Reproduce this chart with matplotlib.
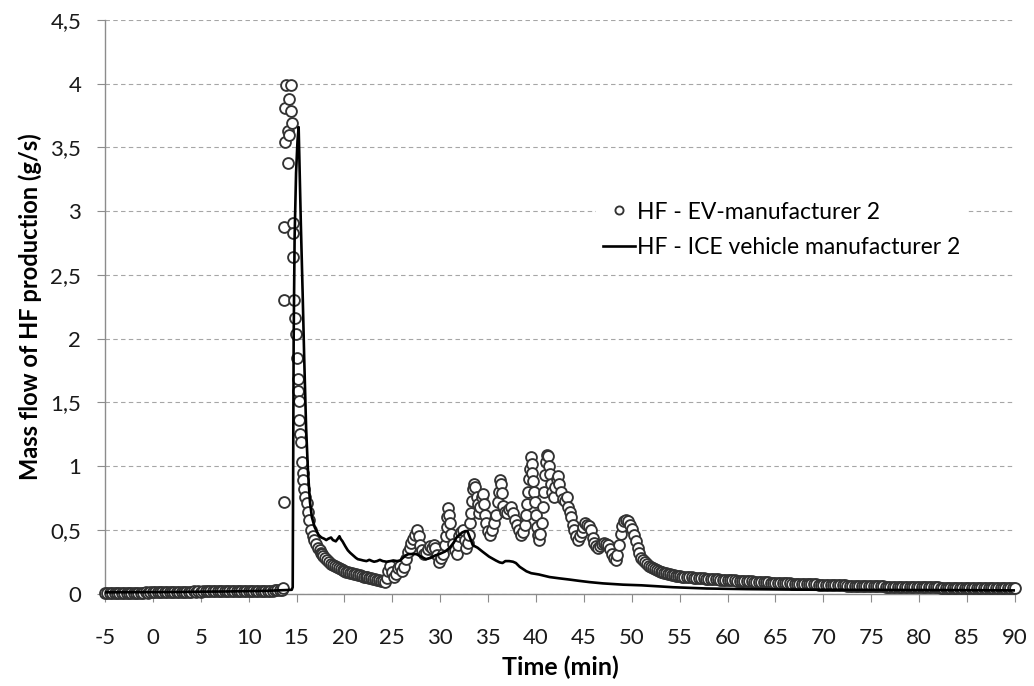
import numpy as np
import matplotlib.pyplot as plt
from matplotlib.ticker import FuncFormatter, MultipleLocator

plt.rcParams['font.family'] = ['Lato', 'DejaVu Sans']
plt.rcParams['axes.unicode_minus'] = False

# HF - EV-manufacturer 2 (open circles), time in min, mass flow in g/s
# before the fire reaches the battery
ev_base_t = [
    -5, -4.75, -4.5, -4.25, -4, -3.75, -3.5, -3.25, -3, -2.75, -2.5, -2.25, -2, -1.75, -1.5,
    -1.25, -1, -0.75, -0.5, -0.25, 0, 0.25, 0.5, 0.75, 1, 1.25, 1.5, 1.75, 2, 2.25,
    2.5, 2.75, 3, 3.25, 3.5, 3.75, 4, 4.25, 4.5, 4.75, 5, 5.25, 5.5, 5.75, 6,
    6.25, 6.5, 6.75, 7, 7.25, 7.5, 7.75, 8, 8.25, 8.5, 8.75, 9, 9.25, 9.5, 9.75,
    10, 10.25, 10.5, 10.75, 11, 11.25, 11.5, 11.75, 12, 12.25, 12.5, 12.75, 13, 13.25, 13.5,
]
ev_base_v = [
    0.005, 0.006, 0.005, 0.005, 0.006, 0.007, 0.006, 0.005, 0.006, 0.007, 0.007, 0.006, 0.007, 0.008, 0.007,
    0.008, 0.008, 0.009, 0.008, 0.009, 0.010, 0.011, 0.012, 0.013, 0.012, 0.013, 0.014, 0.013, 0.014, 0.015,
    0.014, 0.015, 0.016, 0.015, 0.016, 0.015, 0.016, 0.017, 0.016, 0.017, 0.016, 0.017, 0.018, 0.017, 0.018,
    0.017, 0.018, 0.017, 0.018, 0.019, 0.018, 0.019, 0.018, 0.019, 0.020, 0.019, 0.020, 0.019, 0.020, 0.021,
    0.020, 0.021, 0.020, 0.021, 0.022, 0.021, 0.022, 0.023, 0.022, 0.023, 0.024, 0.025, 0.026, 0.027, 0.030,
]
# peak and first decay
ev_peak_t = [
    13.55, 13.66, 13.66, 13.66, 13.80, 13.84, 13.91, 14.08, 14.08, 14.18, 14.25, 14.43, 14.43,
    14.53, 14.6, 14.67, 14.67, 14.78, 14.88, 14.95, 15.02, 15.12, 15.12, 15.23, 15.23, 15.37,
    15.48, 15.54, 15.64, 15.72, 15.82, 15.93, 16.06, 16.17, 16.34, 16.52, 16.7, 16.85, 17.04,
    17.2, 17.4, 17.55, 17.65,
    17.8, 18.0, 18.2, 18.4, 18.6, 18.8, 19.0, 19.2, 19.4, 19.6, 19.8, 20.0, 20.2, 20.4, 20.6,
    20.8, 21.0, 21.2, 21.4, 21.6, 21.8, 22.0, 22.2, 22.4, 22.6, 22.8, 23.0, 23.2, 23.4, 23.6,
    23.8, 24.0, 24.2,
]
ev_peak_v = [
    0.04, 0.72, 2.30, 2.88, 3.54, 3.81, 3.99, 3.38, 3.63, 3.60, 3.88, 3.99, 3.79,
    3.69, 2.91, 2.83, 2.64, 2.30, 2.16, 2.04, 1.85, 1.68, 1.59, 1.51, 1.36, 1.25,
    1.19, 1.03, 0.95, 0.89, 0.82, 0.76, 0.71, 0.64, 0.58, 0.50, 0.45, 0.42, 0.39,
    0.36, 0.34, 0.32, 0.31,
    0.295, 0.28, 0.265, 0.25, 0.235, 0.222, 0.213, 0.205, 0.20, 0.192, 0.185, 0.178, 0.172, 0.167, 0.162,
    0.158, 0.154, 0.15, 0.146, 0.142, 0.138, 0.134, 0.131, 0.128, 0.124, 0.12, 0.116, 0.112, 0.108, 0.104,
    0.10, 0.095, 0.09,
]
# battery phase
ev_mid_t = [
    24.4, 24.6, 24.8, 25.0, 25.2, 25.4, 25.6, 25.8, 26.0, 26.2, 26.4, 26.6, 26.8, 27.0, 27.2,
    27.4, 27.6, 27.8, 27.9, 28.1, 28.3, 28.5, 28.7, 28.9, 29.1, 29.3, 29.5, 29.7, 29.9, 30.1,
    30.3, 30.5, 30.6, 30.7, 30.75, 30.8, 30.9, 31.0, 31.1, 31.3, 31.5, 31.7, 31.9, 32.0, 32.2,
    32.4, 32.6, 32.7, 32.9, 33.0, 33.1, 33.2, 33.3, 33.4, 33.5, 33.65, 33.8, 33.9, 34.0, 34.2,
    34.4, 34.5, 34.6, 34.7, 34.8, 35.0, 35.2, 35.4, 35.6, 35.8, 36.0, 36.1, 36.2, 36.3, 36.45,
    36.6, 36.8, 37.0, 37.2, 37.4, 37.6, 37.8, 38.0, 38.2, 38.4, 38.6, 38.8, 39.0, 39.1, 39.2,
    39.3, 39.4, 39.5, 39.55, 39.6, 39.7, 39.8, 39.9, 40.0, 40.1, 40.2, 40.3, 40.45, 40.6, 40.7,
    40.8, 40.9, 41.0, 41.1, 41.25, 41.35, 41.45, 41.55, 41.7, 41.85, 42.0, 42.15, 42.3, 42.45,
    42.6, 42.8, 43.0, 43.2, 43.35, 43.5, 43.7, 43.9, 44.0, 44.2, 44.4, 44.6, 44.75, 44.9, 45.1,
    45.3, 45.5, 45.7, 45.9, 46.1, 46.3, 46.5, 46.7, 46.9, 47.1, 47.3, 47.5, 47.7, 47.9, 48.1,
    48.3, 48.5, 48.7, 48.85, 49.0, 49.2, 49.4, 49.6, 49.8, 50.0, 50.2, 50.4, 50.6, 50.8,
    51.0, 51.2, 51.4, 51.6, 51.8, 52.0, 52.2, 52.4, 52.6, 52.8, 53.0, 53.2, 53.4, 53.6, 53.8,
    54.0, 54.2, 54.4, 54.6, 54.8, 55.0,
]
ev_mid_v = [
    0.12, 0.18, 0.22, 0.17, 0.13, 0.15, 0.20, 0.22, 0.18, 0.21, 0.27, 0.33, 0.36, 0.40, 0.43,
    0.46, 0.50, 0.45, 0.38, 0.34, 0.31, 0.32, 0.35, 0.37, 0.36, 0.38, 0.36, 0.30, 0.25, 0.28,
    0.31, 0.38, 0.45, 0.52, 0.60, 0.67, 0.62, 0.55, 0.47, 0.39, 0.34, 0.31, 0.38, 0.45, 0.48,
    0.50, 0.42, 0.36, 0.40, 0.46, 0.55, 0.63, 0.73, 0.82, 0.86, 0.84, 0.76, 0.70, 0.63, 0.68,
    0.76, 0.78, 0.70, 0.62, 0.55, 0.49, 0.46, 0.50, 0.55, 0.62, 0.72, 0.80, 0.89, 0.86, 0.79,
    0.69, 0.64, 0.63, 0.66, 0.68, 0.63, 0.58, 0.54, 0.50, 0.46, 0.48, 0.54, 0.62, 0.70, 0.80,
    0.90, 0.98, 1.07, 1.02, 0.95, 0.88, 0.80, 0.72, 0.62, 0.52, 0.46, 0.42, 0.47, 0.55, 0.68,
    0.80, 0.93, 1.03, 1.09, 1.08, 1.00, 0.94, 0.86, 0.80, 0.76, 0.84, 0.90, 0.92, 0.86,
    0.80, 0.74, 0.73, 0.76, 0.68, 0.64, 0.60, 0.54, 0.50, 0.45, 0.42, 0.45, 0.48, 0.52, 0.55,
    0.54, 0.53, 0.50, 0.44, 0.40, 0.37, 0.36, 0.37, 0.39, 0.40, 0.39, 0.38, 0.35, 0.31, 0.28,
    0.26, 0.30, 0.38, 0.47, 0.53, 0.57, 0.58, 0.57, 0.54, 0.51, 0.46, 0.41, 0.36, 0.32,
    0.28, 0.26, 0.245, 0.232, 0.22, 0.21, 0.20, 0.192, 0.185, 0.178, 0.172, 0.167, 0.162, 0.158, 0.154,
    0.15, 0.146, 0.143, 0.14, 0.137, 0.135,
]
# slow tail
ev_tail_t = [
    55.25, 55.5, 55.75, 56, 56.25, 56.5, 56.75, 57, 57.25, 57.5, 57.75, 58, 58.25, 58.5,
    58.75, 59, 59.25, 59.5, 59.75, 60, 60.25, 60.5, 60.75, 61, 61.25, 61.5, 61.75, 62,
    62.25, 62.5, 62.75, 63, 63.25, 63.5, 63.75, 64, 64.25, 64.5, 64.75, 65, 65.25, 65.5,
    65.75, 66, 66.25, 66.5, 66.75, 67, 67.25, 67.5, 67.75, 68, 68.25, 68.5, 68.75, 69,
    69.25, 69.5, 69.75, 70, 70.25, 70.5, 70.75, 71, 71.25, 71.5, 71.75, 72, 72.25, 72.5,
    72.75, 73, 73.25, 73.5, 73.75, 74, 74.25, 74.5, 74.75, 75, 75.25, 75.5, 75.75, 76,
    76.25, 76.5, 76.75, 77, 77.25, 77.5, 77.75, 78, 78.25, 78.5, 78.75, 79, 79.25, 79.5,
    79.75, 80, 80.25, 80.5, 80.75, 81, 81.25, 81.5, 81.75, 82, 82.25, 82.5, 82.75, 83,
    83.25, 83.5, 83.75, 84, 84.25, 84.5, 84.75, 85, 85.25, 85.5, 85.75, 86, 86.25, 86.5,
    86.75, 87, 87.25, 87.5, 87.75, 88, 88.25, 88.5, 88.75, 89, 89.25, 89.5, 89.75, 90,
]
ev_tail_v = [
    0.134, 0.132, 0.130, 0.129, 0.127, 0.126, 0.124, 0.122, 0.121, 0.120, 0.118, 0.117, 0.115, 0.114,
    0.113, 0.111, 0.110, 0.109, 0.108, 0.106, 0.105, 0.104, 0.103, 0.101, 0.100, 0.099, 0.098, 0.097,
    0.096, 0.095, 0.094, 0.093, 0.092, 0.091, 0.090, 0.089, 0.088, 0.087, 0.086, 0.085, 0.084, 0.083,
    0.082, 0.081, 0.081, 0.080, 0.079, 0.078, 0.077, 0.077, 0.076, 0.075, 0.074, 0.074, 0.073, 0.072,
    0.072, 0.071, 0.070, 0.070, 0.069, 0.068, 0.068, 0.067, 0.066, 0.066, 0.065, 0.065, 0.064, 0.063,
    0.063, 0.062, 0.062, 0.061, 0.061, 0.060, 0.060, 0.059, 0.059, 0.058, 0.058, 0.057, 0.057, 0.056,
    0.056, 0.055, 0.055, 0.055, 0.054, 0.054, 0.053, 0.053, 0.053, 0.052, 0.052, 0.051, 0.051, 0.051,
    0.050, 0.050, 0.050, 0.049, 0.049, 0.049, 0.048, 0.048, 0.048, 0.048, 0.047, 0.047, 0.047, 0.046,
    0.046, 0.046, 0.046, 0.045, 0.045, 0.045, 0.045, 0.044, 0.044, 0.044, 0.044, 0.044, 0.043, 0.043,
    0.043, 0.043, 0.043, 0.043, 0.042, 0.042, 0.042, 0.042, 0.042, 0.042, 0.042, 0.042, 0.042, 0.042,
]

# HF - ICE vehicle manufacturer 2 (line)
ice_time = [
    -5, -2, 0, 3, 5, 8, 10, 12, 13, 14, 14.5, 14.6, 14.65, 14.7, 14.8, 14.95, 15.1, 15.22,
    15.3, 15.45, 15.64, 15.8, 16.0, 16.2, 16.4, 16.6, 16.9, 17.3, 17.6, 17.9, 18.1, 18.3,
    18.6, 18.8, 19.1, 19.3, 19.48, 19.6, 19.8, 20.1, 20.35, 20.6, 20.9, 21.2, 21.4, 21.7,
    21.95, 22.3, 22.6, 22.9, 23.1, 23.4, 23.7, 24.0, 24.4, 24.8, 25.1, 25.5, 25.8, 26.1,
    26.4, 26.7, 27.0, 27.5, 28.0, 28.5, 29.0, 29.5, 29.9, 30.5, 31.0, 31.4, 31.7, 32.0,
    32.3, 32.6, 32.84, 33.1, 33.4, 33.9, 34.4, 35.1, 35.8, 36.2, 36.5, 36.8, 37.2, 37.6,
    37.9, 38.3, 38.6, 39.0, 39.5, 40.3, 41.4, 42.4, 43.5, 44.5, 45.6, 47, 49.1, 51, 54.3,
    57.8, 62, 66, 70, 75, 80, 85, 90,
]
ice_flow = [
    0.010, 0.011, 0.012, 0.013, 0.015, 0.017, 0.020, 0.022, 0.025, 0.028, 0.030, 0.05, 1.0,
    2.0, 2.8, 3.3, 3.55, 3.66,
    3.40, 2.90, 2.35, 1.85, 1.30, 0.95, 0.72, 0.60, 0.52, 0.46, 0.44, 0.43, 0.42, 0.43,
    0.44, 0.42, 0.41, 0.43, 0.45, 0.43, 0.41, 0.37, 0.34, 0.32, 0.30, 0.28, 0.27, 0.265,
    0.26, 0.255, 0.265, 0.255, 0.25, 0.255, 0.265, 0.255, 0.25, 0.255, 0.26, 0.255, 0.26, 0.28,
    0.30, 0.31, 0.31, 0.31, 0.29, 0.27, 0.28, 0.30, 0.31, 0.33, 0.36, 0.40, 0.44, 0.46,
    0.48, 0.49, 0.49, 0.44, 0.38, 0.36, 0.33, 0.29, 0.26, 0.245, 0.24, 0.255, 0.255, 0.25,
    0.24, 0.21, 0.195, 0.175, 0.16, 0.15, 0.13, 0.12, 0.11, 0.10, 0.09, 0.08, 0.07, 0.065, 0.05,
    0.04, 0.035, 0.032, 0.030, 0.029, 0.028, 0.027, 0.025,
]

y_ticks = [0, 0.5, 1, 1.5, 2, 2.5, 3, 3.5, 4, 4.5]

ev_time = ev_base_t + ev_peak_t + ev_mid_t + ev_tail_t
ev_flow = ev_base_v + ev_peak_v + ev_mid_v + ev_tail_v

fig = plt.figure(figsize=(10.34, 6.86), dpi=100)
ax = fig.add_axes([0.1015, 0.1347, 0.8801, 0.8361])

ax.plot(ev_time, ev_flow, linestyle='none', marker='o', markersize=7.8,
        markerfacecolor='white', markeredgecolor='#333333', markeredgewidth=1.35,
        label='HF - EV-manufacturer 2', zorder=3, clip_on=False)
ax.plot(ice_time, ice_flow, color='black', linewidth=1.9,
        label='HF - ICE vehicle manufacturer 2', zorder=4)

ax.set_xlim(-5, 90)
ax.set_ylim(0, 4.5)
ax.xaxis.set_major_locator(MultipleLocator(5))
ax.set_yticks(y_ticks)
ax.yaxis.set_major_formatter(FuncFormatter(lambda v, p: ('%g' % v).replace('.', ',')))

ax.grid(axis='y', color='#a6a6a6', linestyle=(0, (4, 3)), linewidth=0.8)
ax.set_axisbelow(True)
for s in ['top', 'right']:
    ax.spines[s].set_visible(False)
for s in ['left', 'bottom']:
    ax.spines[s].set_color('#8c8c8c')
    ax.spines[s].set_linewidth(1.0)

ax.tick_params(axis='x', direction='out', length=6, color='#8c8c8c', labelsize=16, pad=19,
               labelcolor='#1a1a1a')
ax.tick_params(axis='y', direction='out', length=6, color='#8c8c8c', labelsize=16, pad=11,
               labelcolor='#1a1a1a')

ax.set_xlabel('Time (min)', fontsize=18, fontweight='bold', labelpad=5.5)
ax.set_ylabel('Mass flow of HF production (g/s)', fontsize=17, fontweight='bold', labelpad=6)

leg = ax.legend(loc='center left', bbox_to_anchor=(0.5396, 0.634), fontsize=16.5,
                frameon=True, facecolor='white', edgecolor='none', framealpha=1,
                handlelength=1.4, handletextpad=0.1, markerscale=0.75,
                borderpad=0.3, labelspacing=0.65, borderaxespad=0)

fig.savefig('out.png', dpi=100)
